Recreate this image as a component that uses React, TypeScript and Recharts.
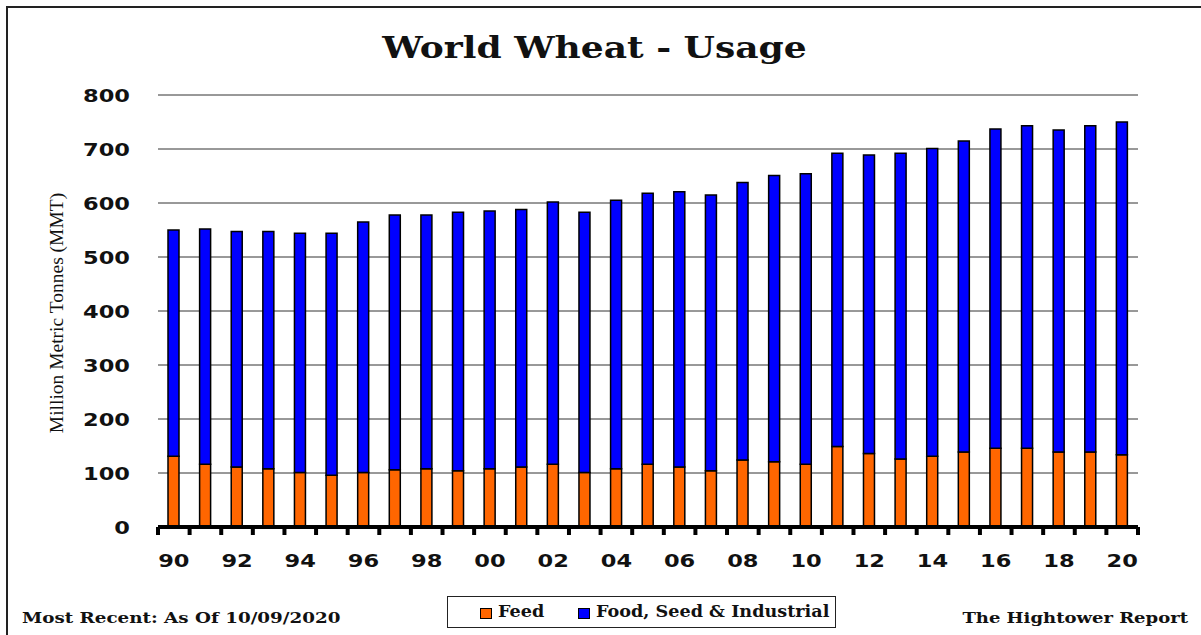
import { BarChart, Bar, XAxis, YAxis, CartesianGrid } from "recharts";

// Marketing years 1990/91 .. 2020/21, shown as two-digit labels
const years = [
  "90", "91", "92", "93", "94", "95", "96", "97", "98", "99",
  "00", "01", "02", "03", "04", "05", "06", "07", "08", "09",
  "10", "11", "12", "13", "14", "15", "16", "17", "18", "19", "20",
];

// Million metric tonnes
const feed = [
  131, 116, 111, 108, 101, 96, 101, 106, 108, 104,
  108, 111, 116, 101, 108, 116, 111, 104, 124, 121,
  116, 149, 136, 126, 131, 139, 146, 146, 139, 139, 134,
];
const foodSeedIndustrial = [
  419, 436, 436, 439, 443, 448, 464, 472, 470, 479,
  477, 477, 486, 482, 497, 502, 510, 511, 514, 530,
  538, 543, 553, 566, 570, 576, 591, 597, 596, 604, 616,
];

const yTicks = [0, 100, 200, 300, 400, 500, 600, 700, 800];

const W = 1201;
const H = 635;
const LEFT = 158;
const RIGHT = 63;
const PLOT_W = W - LEFT - RIGHT;
const BAND = PLOT_W / years.length;

const data = years.map((year, i) => ({
  year,
  feed: feed[i],
  fsi: foodSeedIndustrial[i],
}));

const tickFont = "'DejaVu Sans', Verdana, sans-serif";
const serif = "'DejaVu Serif', Cambria, serif";

function XTick(props: any) {
  const { x, y, payload, index } = props;
  const last = index === years.length - 1;
  return (
    <g>
      <line x1={x - BAND / 2} x2={x - BAND / 2} y1={y} y2={y + 8} stroke="#000" strokeWidth={4} />
      {last && <line x1={x + BAND / 2} x2={x + BAND / 2} y1={y} y2={y + 8} stroke="#000" strokeWidth={4} />}
      {index % 2 === 0 && (
        <text
          transform={`translate(${x},${y + 40}) scale(1.25,1)`}
          textAnchor="middle"
          fontFamily={tickFont}
          fontWeight="bold"
          fontSize={18}
          fill="#111"
        >
          {payload.value}
        </text>
      )}
    </g>
  );
}

function YTick(props: any) {
  const { y, payload } = props;
  return (
    <text
      transform={`translate(${LEFT - 28},${y + 7}) scale(1.25,1)`}
      textAnchor="end"
      fontFamily={tickFont}
      fontWeight="bold"
      fontSize={18}
      fill="#111"
    >
      {payload.value}
    </text>
  );
}

const footer = {
  position: "absolute" as const,
  top: 609,
  fontFamily: serif,
  fontWeight: "bold",
  fontSize: 15,
  color: "#111",
  whiteSpace: "nowrap" as const,
};

export default function App() {
  return (
    <div
      style={{
        position: "fixed",
        left: 0,
        top: 0,
        width: W,
        height: H,
        overflow: "hidden",
        background: "#fff",
      }}
    >
      <div
        style={{
          position: "absolute",
          left: 6,
          top: 6,
          width: W,
          height: H,
          borderLeft: "2px solid #222",
          borderTop: "2px solid #222",
        }}
      />
      <div
        style={{
          position: "absolute",
          left: 0,
          width: W - 12,
          top: 30,
          textAlign: "center",
          fontFamily: serif,
          fontWeight: "bold",
          fontSize: 30,
          color: "#111",
          transform: "scaleX(1.2)",
          transformOrigin: `${(W - 12) / 2}px 0`,
        }}
      >
        World Wheat - Usage
      </div>
      <div
        style={{
          position: "absolute",
          left: 57,
          top: 313,
          transform: "translate(-50%, -50%) rotate(-90deg)",
          whiteSpace: "nowrap",
          fontFamily: "'Liberation Serif', 'Times New Roman', serif",
          fontSize: 19.5,
          color: "#111",
        }}
      >
        Million Metric Tonnes (MMT)
      </div>

      <BarChart
        width={W}
        height={H}
        data={data}
        margin={{ top: 95, right: RIGHT, left: 0, bottom: 0 }}
        style={{ position: "absolute", left: 0, top: 0 }}
      >
        <CartesianGrid vertical={false} stroke="#333" />
        <YAxis
          width={LEFT}
          domain={[0, 800]}
          ticks={yTicks}
          axisLine={false}
          tickLine={false}
          tickSize={0}
          tickMargin={0}
          tick={<YTick />}
        />
        <XAxis
          dataKey="year"
          height={108}
          interval={0}
          axisLine={{ stroke: "#000", strokeWidth: 4 }}
          tickLine={false}
          tickSize={0}
          tickMargin={0}
          tick={<XTick />}
        />
        <Bar dataKey="feed" name="Feed" stackId="a" fill="#FF6600" stroke="#000" strokeWidth={1.5} barSize={11} isAnimationActive={false} />
        <Bar dataKey="fsi" name="Food, Seed & Industrial" stackId="a" fill="#0000FF" stroke="#000" strokeWidth={1.5} barSize={11} isAnimationActive={false} />
      </BarChart>

      <div
        style={{
          position: "absolute",
          left: 447,
          top: 596,
          width: 389,
          height: 32,
          boxSizing: "border-box",
          border: "1.5px solid #222",
          fontFamily: serif,
          fontWeight: "bold",
          fontSize: 16,
          color: "#111",
        }}
      >
        <span style={{ position: "absolute", left: 32, top: 11, width: 10, height: 9, background: "#FF6600", border: "1px solid #000" }} />
        <span style={{ position: "absolute", left: 50, top: 5, transform: "scaleX(1.1)", transformOrigin: "0 0" }}>Feed</span>
        <span style={{ position: "absolute", left: 130, top: 11, width: 10, height: 9, background: "#0000FF", border: "1px solid #000" }} />
        <span style={{ position: "absolute", left: 148, top: 5, transform: "scaleX(1.1)", transformOrigin: "0 0", whiteSpace: "nowrap" }}>
          Food, Seed &amp; Industrial
        </span>
      </div>

      <div style={{ ...footer, left: 22, transform: "scaleX(1.22)", transformOrigin: "0 0" }}>
        Most Recent: As Of 10/09/2020
      </div>
      <div style={{ ...footer, right: 13, transform: "scaleX(1.2)", transformOrigin: "100% 0" }}>
        The Hightower Report
      </div>
    </div>
  );
}
